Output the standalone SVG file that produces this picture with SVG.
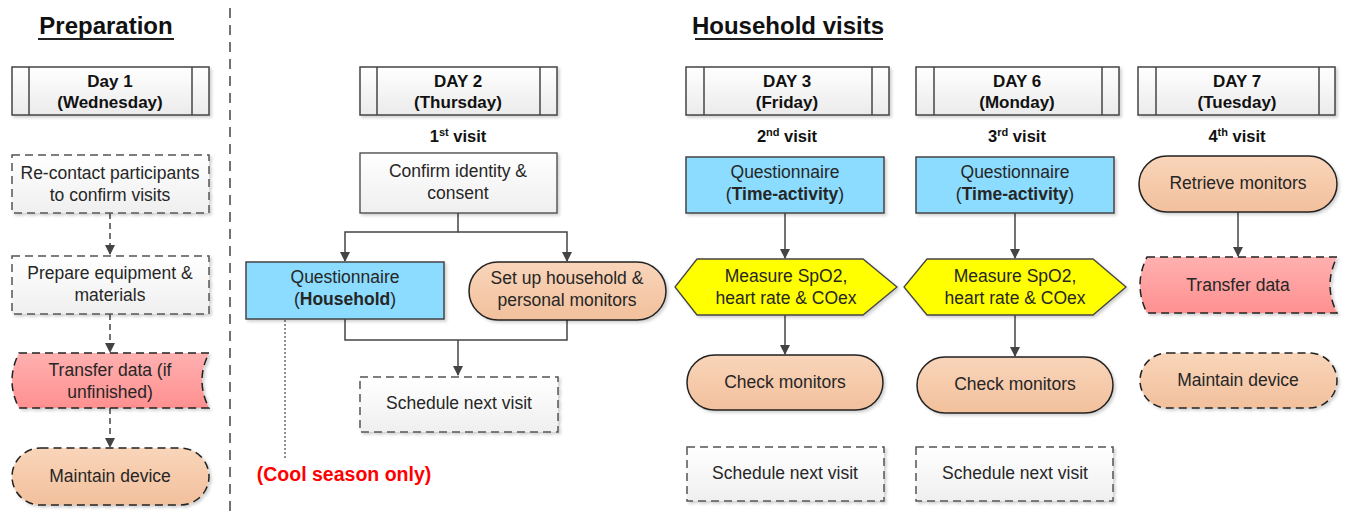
<svg xmlns="http://www.w3.org/2000/svg" width="1346" height="517" viewBox="0 0 1346 517">
<style>
text{font-family:"Liberation Sans",Arial,sans-serif;fill:#262626;text-anchor:middle}
.t{font-size:17.5px}
.b{font-weight:bold}
.title{font-size:24px;font-weight:bold;fill:#111}
.day{font-size:17px;font-weight:bold;fill:#111}
.vis{font-size:16.5px;font-weight:bold;fill:#111}
.day-box{fill:url(#gGray);stroke:#444;stroke-width:1.5}
.inner{stroke:#444;stroke-width:1.5}
.proc{fill:url(#gWhite);stroke:#444;stroke-width:1.3}
.dproc{fill:url(#gWhite);stroke:#555;stroke-width:1.5;stroke-dasharray:8 5}
.blue{fill:#8BDCFE;stroke:#444;stroke-width:1.5}
.orange{fill:url(#gOrange);stroke:#222;stroke-width:1.5}
.dorange{fill:url(#gOrange);stroke:#222;stroke-width:1.5;stroke-dasharray:8 5}
.red{fill:url(#gRed);stroke:#222;stroke-width:1.5;stroke-dasharray:8 5}
.yellow{fill:#FFFF00;stroke:#444;stroke-width:1.3}
.conn{fill:none;stroke:#444;stroke-width:1.5}
.dconn{fill:none;stroke:#444;stroke-width:1.5;stroke-dasharray:6 4}
.sh{filter:url(#shadow)}
</style>
<defs>
<linearGradient id="gGray" x1="0" y1="0" x2="0" y2="1"><stop offset="0" stop-color="#ffffff"/><stop offset="1" stop-color="#ebebeb"/></linearGradient>
<linearGradient id="gWhite" x1="0" y1="0" x2="0" y2="1"><stop offset="0" stop-color="#ffffff"/><stop offset="1" stop-color="#efefef"/></linearGradient>
<linearGradient id="gOrange" x1="0" y1="0" x2="0" y2="1"><stop offset="0" stop-color="#F9D5BA"/><stop offset="1" stop-color="#F2C09C"/></linearGradient>
<linearGradient id="gRed" x1="0" y1="0" x2="0" y2="1"><stop offset="0" stop-color="#FFB0B0"/><stop offset="1" stop-color="#FF9090"/></linearGradient>
<filter id="shadow" x="-10%" y="-10%" width="125%" height="130%"><feDropShadow dx="2" dy="2" stdDeviation="1.5" flood-color="#000" flood-opacity="0.18"/></filter>
<marker id="arr" markerWidth="10" markerHeight="10" refX="9" refY="5" orient="auto" markerUnits="userSpaceOnUse"><path d="M0,0 L10,5 L0,10 Z" fill="#444"/></marker>
</defs>
<rect width="1346" height="517" fill="#fff"/>

<g id="titles">
<text class="title" x="106" y="34">Preparation</text>
<line x1="38" y1="39" x2="174" y2="39" stroke="#222" stroke-width="2"/>
<text class="title" x="788" y="34">Household visits</text>
<line x1="695" y1="39" x2="883" y2="39" stroke="#222" stroke-width="2"/>
</g>
<line id="divider" x1="230" y1="8" x2="230" y2="517" stroke="#444" stroke-width="1.5" stroke-dasharray="10 7"/>

<g id="connectors">
<path class="dconn" d="M110,213 V254" marker-end="url(#arr)"/>
<path class="dconn" d="M110,314 V352" marker-end="url(#arr)"/>
<path class="dconn" d="M110,408 V447" marker-end="url(#arr)"/>
<path class="conn" d="M458,213 V232 H345 V261" marker-end="url(#arr)"/>
<path class="conn" d="M458,232 H567 V261" marker-end="url(#arr)"/>
<path class="conn" d="M345,319 V340 H567 V320"/>
<path class="conn" d="M458,340 V375" marker-end="url(#arr)"/>
<path fill="none" stroke="#555" stroke-width="1.3" stroke-dasharray="2 2" d="M285,320 V458"/>
<path class="conn" d="M785,213 V258" marker-end="url(#arr)"/>
<path class="conn" d="M785,315 V354" marker-end="url(#arr)"/>
<path class="conn" d="M1015,213 V258" marker-end="url(#arr)"/>
<path class="conn" d="M1015,315 V356" marker-end="url(#arr)"/>
<path class="conn" d="M1238,212 V256" marker-end="url(#arr)"/>
</g>

<g id="day1"><rect class="day-box sh" x="12" y="67" width="197" height="48"/><line class="inner" x1="29" y1="67" x2="29" y2="115"/><line class="inner" x1="192" y1="67" x2="192" y2="115"/><text class="day" x="110" y="87">Day 1</text><text class="day" x="110" y="108">(Wednesday)</text></g>
<g id="day2"><rect class="day-box sh" x="360" y="67" width="197" height="48"/><line class="inner" x1="377" y1="67" x2="377" y2="115"/><line class="inner" x1="540" y1="67" x2="540" y2="115"/><text class="day" x="458" y="87">DAY 2</text><text class="day" x="458" y="108">(Thursday)</text></g>
<g id="day3"><rect class="day-box sh" x="686" y="67" width="203" height="48"/><line class="inner" x1="704" y1="67" x2="704" y2="115"/><line class="inner" x1="872" y1="67" x2="872" y2="115"/><text class="day" x="787" y="87">DAY 3</text><text class="day" x="787" y="108">(Friday)</text></g>
<g id="day6"><rect class="day-box sh" x="916" y="67" width="203" height="48"/><line class="inner" x1="934" y1="67" x2="934" y2="115"/><line class="inner" x1="1102" y1="67" x2="1102" y2="115"/><text class="day" x="1017" y="87">DAY 6</text><text class="day" x="1017" y="108">(Monday)</text></g>
<g id="day7"><rect class="day-box sh" x="1138" y="67" width="197" height="48"/><line class="inner" x1="1156" y1="67" x2="1156" y2="115"/><line class="inner" x1="1319" y1="67" x2="1319" y2="115"/><text class="day" x="1237" y="87">DAY 7</text><text class="day" x="1237" y="108">(Tuesday)</text></g>

<g id="visit-labels">
<text class="vis" x="458" y="142">1<tspan font-size="11" dy="-6">st</tspan><tspan dy="6"> visit</tspan></text>
<text class="vis" x="787" y="142">2<tspan font-size="11" dy="-6">nd</tspan><tspan dy="6"> visit</tspan></text>
<text class="vis" x="1017" y="142">3<tspan font-size="11" dy="-6">rd</tspan><tspan dy="6"> visit</tspan></text>
<text class="vis" x="1237" y="142">4<tspan font-size="11" dy="-6">th</tspan><tspan dy="6"> visit</tspan></text>
</g>

<g id="recontact"><rect class="dproc sh" x="12" y="155" width="197" height="58"/><text class="t" x="110" y="179">Re-contact participants</text><text class="t" x="110" y="201">to confirm visits</text></g>
<g id="prepare"><rect class="dproc sh" x="12" y="256" width="197" height="58"/><text class="t" x="110" y="279">Prepare equipment &amp;</text><text class="t" x="110" y="301">materials</text></g>
<g id="transfer1"><path class="red sh" d="M19,353 H209 Q195,380.5 209,408 H19 Q5,380.5 19,353 Z"/><text class="t" x="110" y="376">Transfer data (if</text><text class="t" x="110" y="398">unfinished)</text></g>
<g id="maintain1"><rect class="dorange sh" x="12" y="448" width="197" height="57" rx="28.5"/><text class="t" x="110" y="482">Maintain device</text></g>

<g id="confirm"><rect class="proc sh" x="360" y="153" width="197" height="60"/><text class="t" x="458" y="177">Confirm identity &amp;</text><text class="t" x="458" y="199">consent</text></g>
<g id="q-household"><rect class="blue sh" x="246" y="262" width="198" height="57"/><text class="t" x="345" y="283">Questionnaire</text><text class="t" x="345" y="305">(<tspan class="b">Household</tspan>)</text></g>
<g id="setup"><rect class="orange sh" x="469" y="262" width="197" height="58" rx="29"/><text class="t" x="567" y="284">Set up household &amp;</text><text class="t" x="567" y="306">personal monitors</text></g>
<g id="schedule2"><rect class="dproc sh" x="360" y="377" width="198" height="55"/><text class="t" x="459" y="409">Schedule next visit</text></g>
<text id="cool" x="344" y="481" font-size="19.5" font-weight="bold" style="fill:#FF0000">(Cool season only)</text>

<g id="q-time3"><rect class="blue sh" x="686" y="157" width="198" height="56"/><text class="t" x="785" y="178">Questionnaire</text><text class="t" x="785" y="200">(<tspan class="b">Time-activity</tspan>)</text></g>
<g id="measure3"><polygon class="yellow sh" points="697,259 863,259 897,287 863,315 697,315 675,287"/><text class="t" x="786" y="282">Measure SpO2,</text><text class="t" x="786" y="304">heart rate &amp; COex</text></g>
<g id="check3"><rect class="orange sh" x="687" y="355" width="196" height="55" rx="27.5"/><text class="t" x="785" y="388">Check monitors</text></g>
<g id="schedule3"><rect class="dproc sh" x="687" y="447" width="197" height="54"/><text class="t" x="785" y="479">Schedule next visit</text></g>

<g id="q-time6"><rect class="blue sh" x="916" y="157" width="198" height="56"/><text class="t" x="1015" y="178">Questionnaire</text><text class="t" x="1015" y="200">(<tspan class="b">Time-activity</tspan>)</text></g>
<g id="measure6"><polygon class="yellow sh" points="927,259 1093,259 1126,287 1093,315 927,315 904,287"/><text class="t" x="1015" y="282">Measure SpO2,</text><text class="t" x="1015" y="304">heart rate &amp; COex</text></g>
<g id="check6"><rect class="orange sh" x="917" y="357" width="196" height="56" rx="28"/><text class="t" x="1015" y="390">Check monitors</text></g>
<g id="schedule6"><rect class="dproc sh" x="916" y="447" width="197" height="54"/><text class="t" x="1015" y="479">Schedule next visit</text></g>

<g id="retrieve"><rect class="orange sh" x="1139" y="156" width="198" height="56" rx="28"/><text class="t" x="1238" y="189">Retrieve monitors</text></g>
<g id="transfer7"><path class="red sh" d="M1147,257 H1337 Q1323,285 1337,313 H1147 Q1133,285 1147,257 Z"/><text class="t" x="1238" y="291">Transfer data</text></g>
<g id="maintain7"><rect class="dorange sh" x="1140" y="353" width="197" height="55" rx="27.5"/><text class="t" x="1238" y="386">Maintain device</text></g>
</svg>
